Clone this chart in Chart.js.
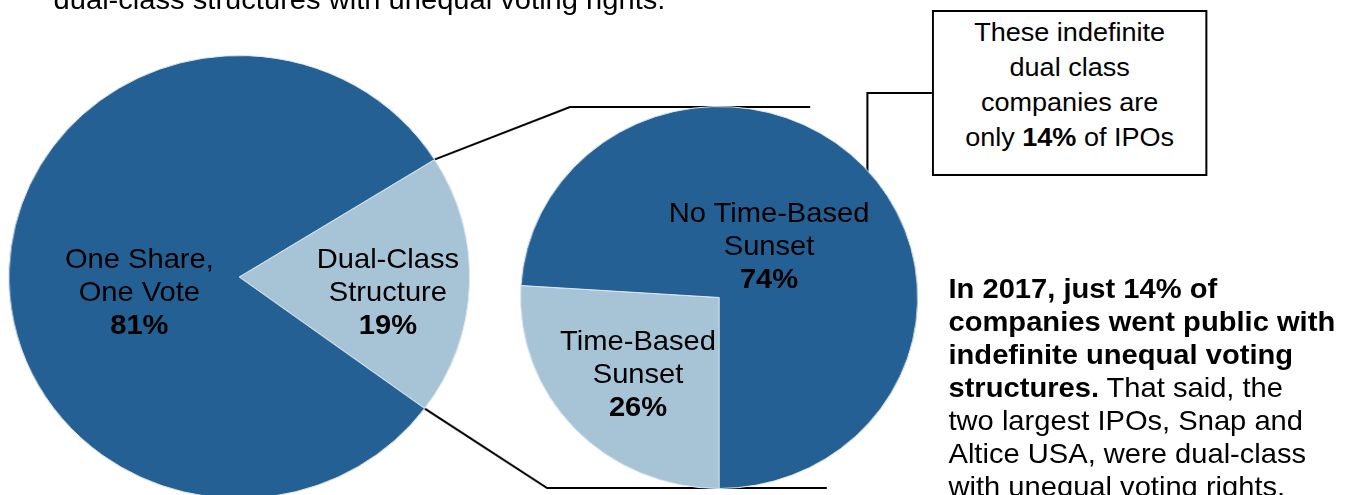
<!DOCTYPE html>
<html>
<head>
<meta charset="utf-8">
<script src="https://cdn.jsdelivr.net/npm/chart.js@4.4.1/dist/chart.umd.min.js"></script>
<style>
  html, body { margin: 0; padding: 0; background: #fff; width: 1354px; height: 495px; overflow: hidden; }
  #stage {
    position: absolute; left: 0; top: 0; width: 1302px; height: 495px;
    transform: scaleX(1.04); transform-origin: 0 0;
    font-family: "Liberation Sans", Arial, sans-serif; color: #000;
  }
  #stage canvas { position: absolute; }
  .lbl { position: absolute; text-align: center; font-size: 28px; line-height: 33px; white-space: nowrap; transform: translateX(-50%); }
  #topText { position: absolute; left: 51.5px; top: -17px; font-size: 28px; line-height: 33px; white-space: nowrap; }
  #note {
    position: absolute; left: 896px; top: 10px; width: 265px; height: 166px; box-sizing: border-box;
    border: 2px solid #000; background: #fff; text-align: center; font-size: 26px; line-height: 35px; padding-top: 2.5px;
  }
  #body { position: absolute; left: 912px; top: 272px; font-size: 28px; line-height: 33px; white-space: nowrap; }
</style>
</head>
<body>
<div id="stage">
  <canvas id="lines" width="1302" height="495"></canvas>
  <canvas id="leftPie" width="444" height="444"></canvas>
  <canvas id="rightPie" width="383" height="383"></canvas>
  <div id="topText">dual-class structures with unequal voting rights.</div>
  <div id="note">These indefinite<br>dual class<br>companies are<br>only <b>14%</b> of IPOs</div>
  <div id="body"><b>In 2017, just 14% of<br>companies went public with<br>indefinite unequal voting<br>structures.</b> That said, the<br>two largest IPOs, Snap and<br>Altice USA, were dual-class<br>with unequal voting rights.</div>
</div>
<script>
// share of IPOs by voting structure
const dualLabels = [['Dual-Class', 'Structure'], ['One Share,', 'One Vote']];
const dualValues = [19, 81];

// dual-class IPOs split by sunset provision
const sunsetLabels = [['Time-Based', 'Sunset'], ['No Time-Based', 'Sunset']];
const sunsetValues = [26, 74];

const colors = ['#A7C3D6', '#246094'];

// where the canvases sit and where the slice labels go
const leftBox = { x: 7.8, y: 55 };
const rightBox = { x: 499.8, y: 106 };
const leftLabelPos = [{ x: 373, y: 242 }, { x: 134, y: 242 }];
const rightLabelPos = [{ x: 613.5, y: 324 }, { x: 739.5, y: 196 }];

function placeCanvas(id, box) {
  const c = document.getElementById(id);
  c.style.left = box.x + 'px';
  c.style.top = box.y + 'px';
  return c;
}

function pie(canvas, labels, values, rotation) {
  return new Chart(canvas.getContext('2d'), {
    type: 'pie',
    data: {
      labels: labels.map(l => l.join(' ')),
      datasets: [{
        data: values,
        backgroundColor: colors,
        borderColor: '#dfe9f1',
        borderWidth: 1
      }]
    },
    options: {
      responsive: false,
      animation: false,
      rotation: rotation,
      layout: { padding: 0 },
      plugins: { legend: { display: false }, tooltip: { enabled: false } }
    }
  });
}

function addLabels(labels, values, pos) {
  const stage = document.getElementById('stage');
  labels.forEach((lines, i) => {
    const d = document.createElement('div');
    d.className = 'lbl';
    d.style.left = pos[i].x + 'px';
    d.style.top = pos[i].y + 'px';
    d.innerHTML = lines.join('<br>') + '<br><b>' + values[i] + '%</b>';
    stage.appendChild(d);
  });
}

const leftChart = pie(placeCanvas('leftPie', leftBox), dualLabels, dualValues, 58);
const rightChart = pie(placeCanvas('rightPie', rightBox), sunsetLabels, sunsetValues, 180);
addLabels(dualLabels, dualValues, leftLabelPos);
addLabels(sunsetLabels, sunsetValues, rightLabelPos);

// connector lines from the dual-class slice to the breakdown pie, plus the note's leader
function drawConnectors() {
  const ctx = document.getElementById('lines').getContext('2d');
  const arc = leftChart.getDatasetMeta(0).data[0];
  const edge = a => ({
    x: leftBox.x + arc.x + arc.outerRadius * Math.cos(a),
    y: leftBox.y + arc.y + arc.outerRadius * Math.sin(a)
  });
  const top = edge(arc.startAngle);
  const bottom = edge(arc.endAngle);
  ctx.strokeStyle = '#000';
  ctx.lineWidth = 2;
  ctx.beginPath();
  ctx.moveTo(top.x, top.y);
  ctx.lineTo(548, 107);
  ctx.lineTo(779, 107);
  ctx.moveTo(bottom.x, bottom.y);
  ctx.lineTo(526, 488);
  ctx.lineTo(795, 488);
  ctx.moveTo(897, 93);
  ctx.lineTo(834, 93);
  ctx.lineTo(834, 172);
  ctx.stroke();
}
drawConnectors();
</script>
</body>
</html>
